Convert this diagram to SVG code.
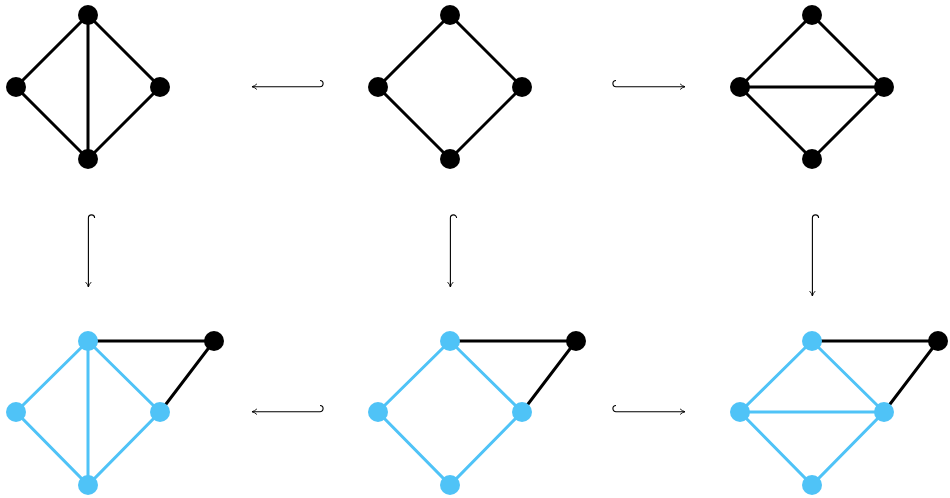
<svg xmlns="http://www.w3.org/2000/svg" width="950" height="498" viewBox="0 0 950 498">
<style>
.e{stroke:#000;stroke-width:3;fill:none}
.b{stroke:#4FC3F7;stroke-width:3;fill:none}
.nk{fill:#000}
.nb{fill:#4FC3F7}
.a{stroke:#000;stroke-width:1.1;fill:none}
</style>
<defs>
<marker id="ah" viewBox="0 0 10 10" refX="9" refY="5" markerWidth="7" markerHeight="7" markerUnits="userSpaceOnUse" orient="auto">
<path d="M2,1 Q5,4 9,5 Q5,6 2,9" fill="none" stroke="#000" stroke-width="1.3"/>
</marker>
</defs>
<rect width="950" height="498" fill="#fff"/>
<g id="connectors">
<!-- top-left graph -->
<path class="e" d="M88,15 L16,87 L88,159 L160,87 Z M88,15 L88,159"/>
<!-- top-middle graph -->
<path class="e" d="M450,15 L378,87 L450,159 L522,87 Z"/>
<!-- top-right graph -->
<path class="e" d="M812,15 L740,87 L812,159 L884,87 Z M740,87 L884,87"/>
<!-- bottom-left -->
<path class="e" d="M88,341 L214,341 L160,412"/>
<path class="b" d="M88,341 L16,412 L88,485 L160,412 Z M88,341 L88,485"/>
<!-- bottom-middle -->
<path class="e" d="M450,341 L576,341 L522,412"/>
<path class="b" d="M450,341 L378,412 L450,485 L522,412 Z"/>
<!-- bottom-right -->
<path class="e" d="M812,341 L938,341 L884,412"/>
<path class="b" d="M812,341 L740,412 L812,485 L884,412 Z M740,412 L884,412"/>
<!-- hook arrows -->
<path class="a" marker-end="url(#ah)" d="M320,80.5 A3.1,3.1 0 0 1 320,86.7 L252,86.7"/>
<path class="a" marker-end="url(#ah)" d="M616,80.5 A3.1,3.1 0 0 0 616,86.7 L685,86.7"/>
<path class="a" marker-end="url(#ah)" d="M320,405.5 A3.1,3.1 0 0 1 320,411.7 L252,411.7"/>
<path class="a" marker-end="url(#ah)" d="M616,405.5 A3.1,3.1 0 0 0 616,411.7 L685,411.7"/>
<path class="a" marker-end="url(#ah)" d="M94.6,218 A3.1,3.1 0 0 0 88.4,218 L88.4,287"/>
<path class="a" marker-end="url(#ah)" d="M456.6,218 A3.1,3.1 0 0 0 450.4,218 L450.4,287"/>
<path class="a" marker-end="url(#ah)" d="M818.6,218 A3.1,3.1 0 0 0 812.4,218 L812.4,296"/>
</g>
<g id="g1">
<circle id="n1a" class="nk" cx="88" cy="15" r="10"/>
<circle id="n1b" class="nk" cx="16" cy="87" r="10"/>
<circle id="n1c" class="nk" cx="160" cy="87" r="10"/>
<circle id="n1d" class="nk" cx="88" cy="159" r="10"/>
</g>
<g id="g2">
<circle id="n2a" class="nk" cx="450" cy="15" r="10"/>
<circle id="n2b" class="nk" cx="378" cy="87" r="10"/>
<circle id="n2c" class="nk" cx="522" cy="87" r="10"/>
<circle id="n2d" class="nk" cx="450" cy="159" r="10"/>
</g>
<g id="g3">
<circle id="n3a" class="nk" cx="812" cy="15" r="10"/>
<circle id="n3b" class="nk" cx="740" cy="87" r="10"/>
<circle id="n3c" class="nk" cx="884" cy="87" r="10"/>
<circle id="n3d" class="nk" cx="812" cy="159" r="10"/>
</g>
<g id="g4">
<circle id="n4a" class="nb" cx="88" cy="341" r="10"/>
<circle id="n4b" class="nb" cx="16" cy="412" r="10"/>
<circle id="n4c" class="nb" cx="160" cy="412" r="10"/>
<circle id="n4d" class="nb" cx="88" cy="485" r="10"/>
<circle id="n4e" class="nk" cx="214" cy="341" r="10"/>
</g>
<g id="g5">
<circle id="n5a" class="nb" cx="450" cy="341" r="10"/>
<circle id="n5b" class="nb" cx="378" cy="412" r="10"/>
<circle id="n5c" class="nb" cx="522" cy="412" r="10"/>
<circle id="n5d" class="nb" cx="450" cy="485" r="10"/>
<circle id="n5e" class="nk" cx="576" cy="341" r="10"/>
</g>
<g id="g6">
<circle id="n6a" class="nb" cx="812" cy="341" r="10"/>
<circle id="n6b" class="nb" cx="740" cy="412" r="10"/>
<circle id="n6c" class="nb" cx="884" cy="412" r="10"/>
<circle id="n6d" class="nb" cx="812" cy="485" r="10"/>
<circle id="n6e" class="nk" cx="938" cy="341" r="10"/>
</g>
</svg>
